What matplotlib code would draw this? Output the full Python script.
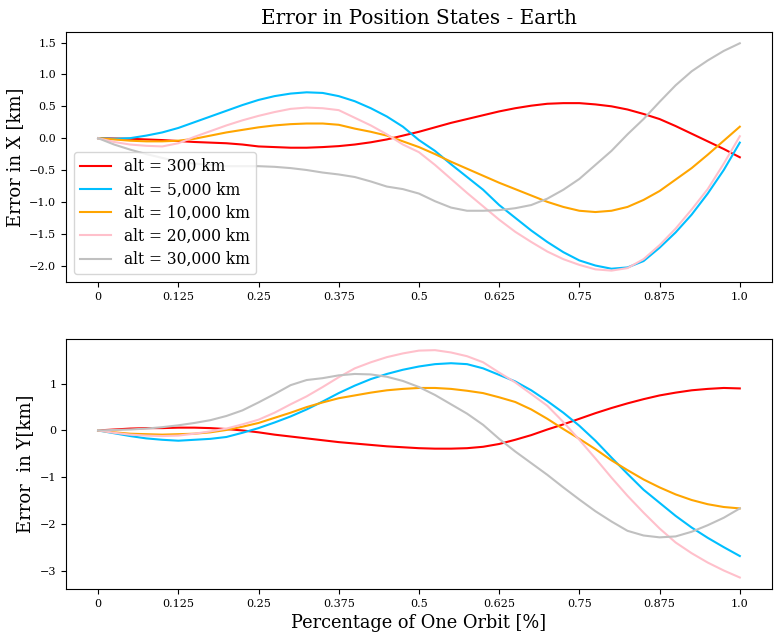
import matplotlib
matplotlib.use('Agg')
from matplotlib import pyplot as plt

plt.rcParams['font.family'] = 'DejaVu Serif'

# fraction of one orbit, every 0.025
orbit = [0, 0.025, 0.05, 0.075, 0.1, 0.125, 0.15, 0.175, 0.2, 0.225, 0.25,
         0.275, 0.3, 0.325, 0.35, 0.375, 0.4, 0.425, 0.45, 0.475, 0.5,
         0.525, 0.55, 0.575, 0.6, 0.625, 0.65, 0.675, 0.7, 0.725, 0.75,
         0.775, 0.8, 0.825, 0.85, 0.875, 0.9, 0.925, 0.95, 0.975, 1.0]

labels = ['alt = 300 km', 'alt = 5,000 km', 'alt = 10,000 km',
          'alt = 20,000 km', 'alt = 30,000 km']
colors = ['red', 'deepskyblue', 'orange', 'pink', 'silver']

# error in X [km]
err_x_300 = [0, -0.005, -0.01, -0.02, -0.03, -0.045, -0.06, -0.07, -0.08, -0.1, -0.13,
             -0.14, -0.15, -0.15, -0.14, -0.125, -0.1, -0.065, -0.02, 0.04, 0.1,
             0.17, 0.24, 0.3, 0.36, 0.42, 0.47, 0.51, 0.54, 0.55, 0.55,
             0.53, 0.5, 0.45, 0.38, 0.3, 0.19, 0.07, -0.05, -0.17, -0.3]
err_x_5k = [0, -0.01, 0.0, 0.04, 0.09, 0.16, 0.25, 0.34, 0.43, 0.52, 0.6,
            0.66, 0.7, 0.72, 0.71, 0.66, 0.58, 0.47, 0.34, 0.18, -0.03,
            -0.2, -0.41, -0.61, -0.81, -1.05, -1.25, -1.45, -1.63, -1.79, -1.92,
            -2.0, -2.05, -2.03, -1.93, -1.72, -1.48, -1.2, -0.87, -0.5, -0.07]
err_x_10k = [0, -0.02, -0.04, -0.05, -0.05, -0.04, -0.01, 0.04, 0.09, 0.13, 0.17,
             0.2, 0.22, 0.23, 0.23, 0.21, 0.15, 0.1, 0.04, -0.05, -0.14,
             -0.25, -0.37, -0.48, -0.59, -0.7, -0.8, -0.9, -1.0, -1.08, -1.14,
             -1.16, -1.14, -1.08, -0.97, -0.83, -0.65, -0.47, -0.26, -0.04, 0.18]
err_x_20k = [0, -0.06, -0.1, -0.12, -0.13, -0.08, 0.02, 0.11, 0.2, 0.28, 0.35,
             0.41, 0.46, 0.48, 0.47, 0.44, 0.32, 0.2, 0.06, -0.1, -0.22,
             -0.42, -0.64, -0.86, -1.07, -1.28, -1.47, -1.63, -1.78, -1.9, -1.99,
             -2.06, -2.08, -2.04, -1.9, -1.68, -1.42, -1.12, -0.8, -0.4, 0.03]
err_x_30k = [0, -0.1, -0.18, -0.25, -0.31, -0.37, -0.4, -0.42, -0.44, -0.44, -0.44,
             -0.45, -0.47, -0.5, -0.54, -0.57, -0.61, -0.68, -0.76, -0.8, -0.87,
             -0.99, -1.09, -1.14, -1.14, -1.13, -1.1, -1.05, -0.95, -0.81, -0.64,
             -0.42, -0.2, 0.06, 0.3, 0.57, 0.83, 1.05, 1.22, 1.37, 1.49]

# error in Y [km]
err_y_300 = [0, 0.02, 0.04, 0.05, 0.05, 0.06, 0.06, 0.05, 0.03, 0.0, -0.04,
             -0.09, -0.13, -0.17, -0.21, -0.25, -0.28, -0.31, -0.34, -0.36, -0.38,
             -0.39, -0.39, -0.38, -0.35, -0.29, -0.2, -0.1, 0.02, 0.13, 0.25,
             0.37, 0.48, 0.58, 0.67, 0.75, 0.81, 0.86, 0.89, 0.91, 0.9]
err_y_5k = [0, -0.06, -0.12, -0.17, -0.2, -0.22, -0.2, -0.18, -0.14, -0.05, 0.05,
            0.17, 0.3, 0.45, 0.62, 0.8, 0.96, 1.1, 1.21, 1.3, 1.37,
            1.42, 1.44, 1.42, 1.33, 1.19, 1.05, 0.86, 0.63, 0.38, 0.1,
            -0.22, -0.58, -0.93, -1.27, -1.55, -1.83, -2.08, -2.3, -2.5, -2.69]
err_y_10k = [0, -0.04, -0.07, -0.08, -0.09, -0.08, -0.07, -0.04, 0.01, 0.08, 0.16,
             0.27, 0.38, 0.5, 0.6, 0.69, 0.75, 0.81, 0.86, 0.89, 0.91,
             0.91, 0.89, 0.85, 0.8, 0.71, 0.61, 0.45, 0.25, 0.03, -0.18,
             -0.4, -0.64, -0.85, -1.05, -1.22, -1.37, -1.49, -1.58, -1.64, -1.67]
err_y_20k = [0, -0.05, -0.09, -0.11, -0.12, -0.11, -0.07, -0.02, 0.04, 0.13, 0.23,
             0.38, 0.56, 0.73, 0.93, 1.14, 1.33, 1.46, 1.57, 1.65, 1.71,
             1.72, 1.67, 1.59, 1.46, 1.24, 1.03, 0.78, 0.53, 0.18, -0.2,
             -0.6, -1.01, -1.4, -1.76, -2.1, -2.4, -2.63, -2.83, -3.0, -3.15]
err_y_30k = [0, 0.01, 0.02, 0.04, 0.07, 0.11, 0.16, 0.22, 0.31, 0.43, 0.6,
             0.78, 0.97, 1.08, 1.12, 1.18, 1.21, 1.2, 1.15, 1.06, 0.93,
             0.76, 0.56, 0.36, 0.12, -0.18, -0.45, -0.7, -0.95, -1.22, -1.48,
             -1.73, -1.95, -2.15, -2.25, -2.29, -2.27, -2.17, -2.03, -1.87, -1.67]

err_x = [err_x_300, err_x_5k, err_x_10k, err_x_20k, err_x_30k]
err_y = [err_y_300, err_y_5k, err_y_10k, err_y_20k, err_y_30k]

xticks = [0, 0.125, 0.25, 0.375, 0.5, 0.625, 0.75, 0.875, 1.0]
xtick_labels = ['0', '0.125', '0.25', '0.375', '0.5', '0.625', '0.75', '0.875', '1.0']

fig = plt.figure(figsize=(7.8, 6.38), dpi=100)
ax1 = fig.add_axes([0.0846, 0.558, 0.905, 0.392])
ax2 = fig.add_axes([0.0846, 0.077, 0.905, 0.392])

for i in range(len(labels)):
    ax1.plot(orbit, err_x[i], color=colors[i], label=labels[i], linewidth=1.5)
    ax2.plot(orbit, err_y[i], color=colors[i], label=labels[i], linewidth=1.5)

for ax in (ax1, ax2):
    ax.set_xticks(xticks)
    ax.set_xticklabels(xtick_labels)
    ax.tick_params(labelsize=8)

ax1.set_title('Error in Position States - Earth', fontsize=14.4)
ax1.set_ylabel('Error in X [km]', fontsize=13)
ax1.legend(loc='lower left', fontsize=11.2, labelspacing=0.4)
ax2.set_ylabel('Error  in Y[km]', fontsize=13)
ax2.set_xlabel('Percentage of One Orbit [%]', fontsize=12.8)

plt.savefig('out.png')
